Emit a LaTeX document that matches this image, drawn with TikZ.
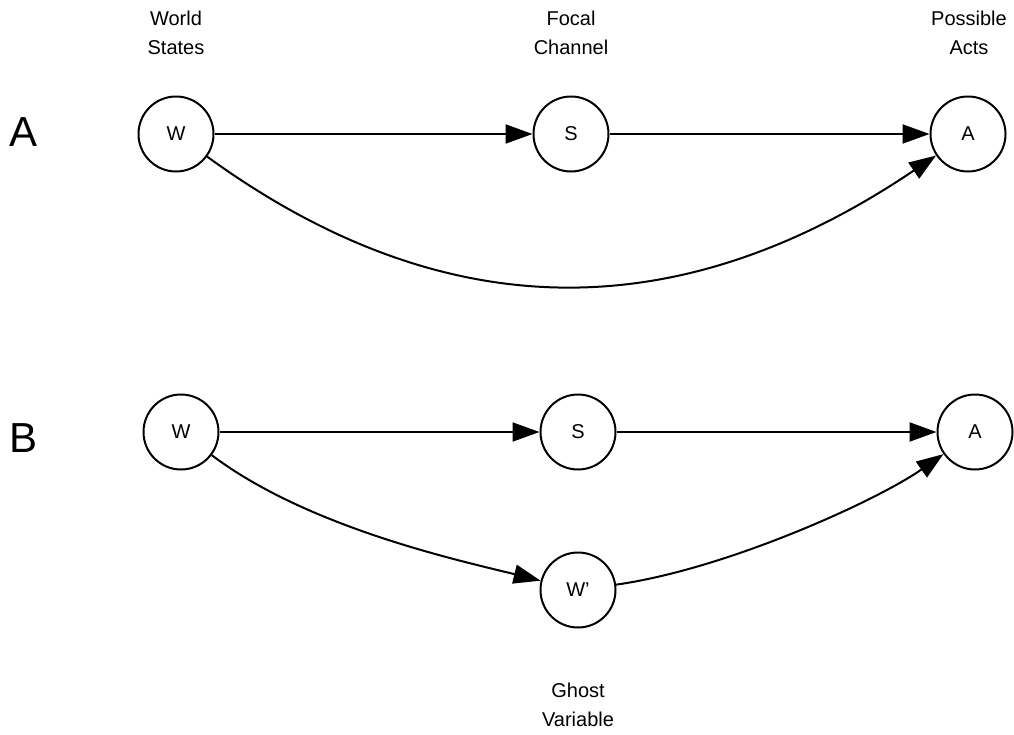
\documentclass[tikz,border=0pt]{standalone}
\usepackage{fontspec}
\setmainfont{Liberation Sans}
\usetikzlibrary{arrows.meta}
\begin{document}
\begin{tikzpicture}[x=1pt,y=1pt,
  var/.style={circle,draw,line width=2pt,minimum size=75pt,inner sep=0pt,font=\fontsize{20}{24}\selectfont},
  lab/.style={align=center,font=\fontsize{20}{29}\selectfont},
  big/.style={font=\fontsize{42}{48}\selectfont},
  edge/.style={line width=2pt,-{Triangle[length=27pt,width=19pt]}}]
\useasboundingbox (0,0) rectangle (1014,-734);
% labels
\node[lab] (lw) at (176,-33) {World\\States};
\node[lab] (lf) at (571,-33) {Focal\\Channel};
\node[lab] (lp) at (969,-33) {Possible\\Acts};
\node[lab] (lg) at (578,-705) {Ghost\\Variable};
\node[big] (la) at (24,-132) {A};
\node[big] (lb) at (24,-438) {B};
% panel A
\node[var] (wA) at (176,-134) {W};
\node[var] (sA) at (571,-134) {S};
\node[var] (aA) at (968,-134) {A};
\draw[edge] (wA) -- (sA);
\draw[edge] (sA) -- (aA);
\draw[edge] (wA) .. controls +(-36:340) and +(-146:340) .. (aA);
% panel B
\node[var] (wB) at (181,-432) {W};
\node[var] (sB) at (578,-432) {S};
\node[var] (aB) at (975,-432) {A};
\node[var] (gB) at (578,-590) {W’};
\draw[edge] (wB) -- (sB);
\draw[edge] (sB) -- (aB);
\draw[edge] (wB) .. controls +(-37:160) and +(166:120) .. (gB);
\draw[edge] (gB) .. controls +(8:150) and +(-145:120) .. (aB);
\end{tikzpicture}
\end{document}
